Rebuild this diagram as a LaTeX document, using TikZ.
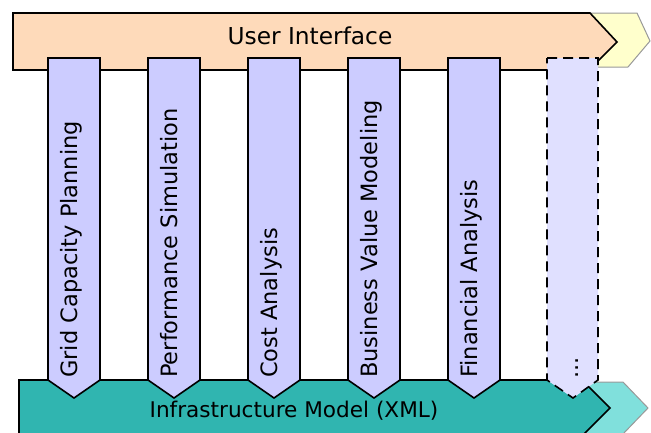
\documentclass[tikz,border=0pt]{standalone}
\usepackage{fontspec}
\setmainfont{DejaVu Sans}
\definecolor{uiorange}{RGB}{254,218,186}
\definecolor{uiyellow}{RGB}{255,255,204}
\definecolor{colblue}{RGB}{204,204,255}
\definecolor{colpale}{RGB}{224,224,255}
\definecolor{tealdark}{RGB}{48,181,176}
\definecolor{teallight}{RGB}{128,224,220}
\tikzset{
  outline/.style={draw=black, line width=1.6pt, line join=miter},
  ghost/.style={draw=black!40, line width=1pt},
  colshape/.style={outline, fill=colblue},
  coltext/.style={rotate=90, anchor=base west, font=\fontsize{22.5}{27}\selectfont, inner sep=0pt},
  bigtext/.style={font=\fontsize{23.3}{27}\selectfont, inner sep=0pt}
}
\begin{document}
\begin{tikzpicture}[x=1pt,y=-1pt]
\useasboundingbox (0,0) rectangle (651,432);
% shadow chevrons
\fill[uiyellow] (590,13) -- (637,13) -- (650,41) -- (628,67) -- (598,67) -- cycle;
\draw[ghost] (590,13) -- (637,13) -- (650,41) -- (628,67) -- (598,67);
\fill[teallight] (585,382) -- (623,382) -- (648,408) -- (623,434) -- (585,434) -- cycle;
\draw[ghost] (585,382) -- (623,382) -- (648,408) -- (623,434);
% main arrows
\draw[outline, fill=uiorange] (13,13) -- (590,13) -- (617,42) -- (589,70) -- (13,70) -- cycle;
\draw[outline, fill=tealdark] (19,440) -- (19,380) -- (582,380) -- (610,408) -- (578,440);
\node[bigtext] (ui) at (310,36) {User Interface};
\node[bigtext, font=\fontsize{21.6}{26}\selectfont] (infra) at (294,411) {Infrastructure Model (XML)};
% columns
\foreach \x/\t/\n in {48/Grid Capacity Planning/c1, 148/Performance Simulation/c2, 248/Cost Analysis/c3, 348/Business Value Modeling/c4, 448/Financial Analysis/c5}{
  \draw[colshape] (\x,58) -- (\x+52,58) -- (\x+52,380) -- (\x+26,398) -- (\x,380) -- cycle;
  \node[coltext] (\n) at (\x+29,378) {\t};
}
\draw[outline, fill=colpale, dashed, dash pattern=on 10pt off 6pt] (547,58) -- (598,58) -- (598,380) -- (573,398) -- (547,380) -- cycle;
\node[coltext] (dots) at (578,379) {...};
\end{tikzpicture}
\end{document}
